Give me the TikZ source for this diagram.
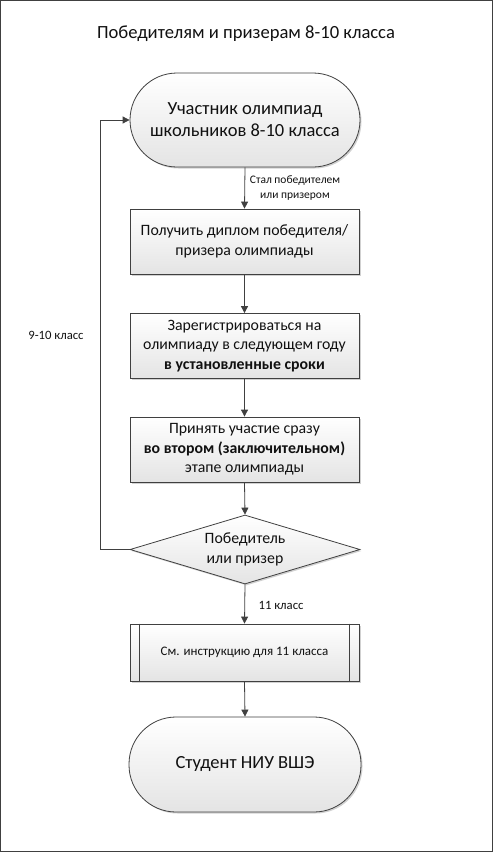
\documentclass[tikz,border=0pt]{standalone}
\usepackage{fontspec}
\setmainfont{Carlito}
\usetikzlibrary{shapes.geometric,shadows,calc,arrows.meta}
\definecolor{edge}{HTML}{404040}
\definecolor{fillbot}{HTML}{E4E4E4}
\definecolor{txt}{HTML}{111111}
\tikzset{
  base/.style={draw=edge, line width=0.8pt, top color=white, bottom color=fillbot, text=txt,
    drop shadow={shadow xshift=1.5pt, shadow yshift=-1.5pt, fill=black!18, opacity=1}},
  term/.style={base, rectangle, rounded corners=47pt, minimum width=230pt, minimum height=94pt, align=center,
    font=\fontsize{18.5}{22}\selectfont},
  procbox/.style={base, rectangle, minimum width=229pt, minimum height=65pt, align=center,
    font=\fontsize{15.8}{19.5}\selectfont},
  decis/.style={base, diamond, shape aspect=3.33, minimum width=230pt, minimum height=69pt, inner sep=0pt, align=center,
    font=\fontsize{15.8}{19.5}\selectfont},
  subbox/.style={base, rectangle, minimum width=229pt, minimum height=57pt, align=center,
    font=\fontsize{13}{15}\selectfont},
  arr/.style={draw=edge, line width=0.8pt, -{Triangle[length=7pt,width=7pt]}},
  lbl/.style={text=txt, align=center},
}
\begin{document}
\begin{tikzpicture}[x=1pt,y=-1pt]
\useasboundingbox (0,0) rectangle (493,852);
\draw[edge, line width=1pt] (0.5,0.5) rectangle (492.5,851.5);
\node[lbl, font=\fontsize{18.6}{22}\selectfont] (title) at (246,34) {Победителям и призерам 8-10 класса};
\node[term] (t1) at (245,120) {Участник олимпиад\\школьников 8-10 класса};
\node[procbox] (b1) at (244.5,241.5) {Получить диплом победителя/\\призера олимпиады};
\node[procbox] (b2) at (244.5,346) {Зарегистрироваться на\\олимпиаду в следующем году\\\textbf{в установленные сроки}};
\node[procbox] (b3) at (244.5,449.5) {Принять участие сразу\\\textbf{во втором (заключительном)}\\этапе олимпиады};
\node[decis] (d1) at (245,549.5) {Победитель\\или призер};
\node[subbox] (s1) at (244.5,652.5) {См. инструкцию для 11 класса};
\node[term, minimum width=232pt, minimum height=95pt] (t2) at (245,764.5) {Студент НИУ ВШЭ};
\draw[edge, line width=0.8pt] ($(s1.north west)+(10,0)$) -- ($(s1.south west)+(10,0)$);
\draw[edge, line width=0.8pt] ($(s1.north east)+(-10,0)$) -- ($(s1.south east)+(-10,0)$);
\coordinate (loopb) at (100,549.5);
\draw[arr] (t1.south) -- (b1.north);
\draw[arr] (b1.south) -- (b2.north);
\draw[arr] (b2.south) -- (b3.north);
\draw[arr] (b3.south) -- (d1.north);
\draw[arr] (d1.south) -- (s1.north);
\draw[arr] (s1.south) -- (t2.north);
\draw[arr] (d1.west) -- (loopb) |- (t1.west);
\node[lbl, font=\fontsize{11.5}{14.5}\selectfont] (l1) at (295,188) {Стал победителем\\или призером};
\node[lbl, font=\fontsize{12.7}{14}\selectfont] (l2) at (56,335) {9-10 класс};
\node[lbl, font=\fontsize{12.7}{14}\selectfont] (l3) at (281,605) {11 класс};
\end{tikzpicture}
\end{document}
